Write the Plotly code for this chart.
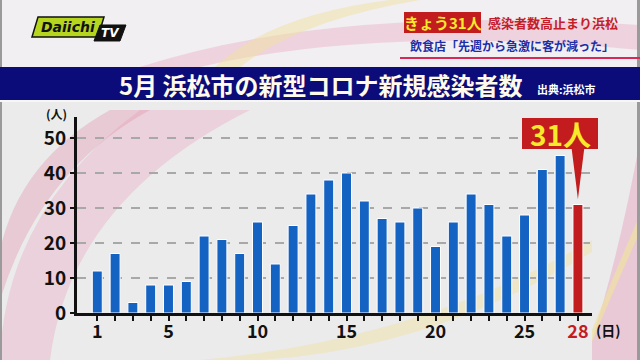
import plotly.graph_objects as go

# ---- data ----
days = list(range(1, 29))
cases = [12, 17, 3, 8, 8, 9, 22, 21, 17, 26, 14, 25, 34, 38, 40, 32, 27, 26, 30, 19,
         26, 34, 31, 22, 28, 41, 45, 31]
x_tick_days = [1, 5, 10, 15, 20, 25, 28]
y_ticks = [0, 10, 20, 30, 40, 50]

title_text = "5月 浜松市の新型コロナ新規感染者数"
source_text = "出典:浜松市"
headline_box = "きょう31人"
headline_red = "感染者数高止まり浜松"
headline_2 = "飲食店「先週から急激に客が減った」"
callout_text = f"{cases[-1]}人"

BLUE = "#1463c2"
RED = "#c21c1e"
FONT = "Noto Sans CJK JP"

# ---- pixel -> paper helpers for decorations ----
L, R, T, B = 77, 592, 117, 313
W, H = R - L, B - T
def px(x): return (x - L) / W
def py(y): return (B - y) / H

def path(*cmds):
    out = []
    for c in cmds:
        op, nums = c[0], c[1:]
        pts = []
        for i in range(0, len(nums), 2):
            pts.append(f"{px(nums[i]):.4f},{py(nums[i+1]):.4f}")
        out.append(op + " " + " ".join(pts))
    return " ".join(out)

colors = [BLUE] * (len(days) - 1) + [RED]
ticktext = []
for d in days:
    if d == days[-1]:
        ticktext.append(f'<span style="color:{RED}">{d}</span>')
    elif d in x_tick_days:
        ticktext.append(str(d))
    else:
        ticktext.append("")

fig = go.Figure(go.Bar(
    x=days, y=cases, marker=dict(color=colors, line=dict(color="white", width=1)),
    hoverinfo="skip"))

shapes = []
def pshape(p, fill, line_color=None, line_width=0, layer="below"):
    shapes.append(dict(type="path", xref="paper", yref="paper", path=p, fillcolor=fill,
                       line=dict(color=line_color or "rgba(0,0,0,0)", width=line_width), layer=layer))

def prect(x0, y0, x1, y1, fill, layer="below", lc=None, lw=0):
    shapes.append(dict(type="rect", xref="paper", yref="paper", x0=px(x0), x1=px(x1),
                       y0=py(y1), y1=py(y0), fillcolor=fill,
                       line=dict(color=lc or "rgba(0,0,0,0)", width=lw), layer=layer))

# background header
prect(0, 0, 640, 67, "#f1eff1")
# pink swooshes
pshape(path(("M", 0, 360), ("Q", 5, 210, 140, 110), ("L", 250, 110), ("Q", 70, 200, 50, 360), ("Z",)),
       "rgba(232,160,190,0.35)")
pshape(path(("M", 0, 250), ("Q", 20, 160, 110, 110), ("L", 150, 110), ("Q", 40, 170, 0, 300), ("Z",)),
       "rgba(225,140,170,0.35)")
pshape(path(("M", 140, 67), ("Q", 330, 5, 640, 25), ("L", 640, 50), ("Q", 380, 25, 200, 67), ("Z",)),
       "rgba(232,160,190,0.35)")
pshape(path(("M", 215, 67), ("Q", 270, 15, 390, 0), ("L", 420, 0), ("Q", 300, 20, 240, 67), ("Z",)),
       "rgba(240,225,160,0.5)")
pshape(path(("M", 592, 340), ("Q", 620, 250, 640, 140), ("L", 640, 360), ("L", 592, 360), ("Z",)),
       "rgba(232,160,190,0.45)")
pshape(path(("M", 592, 330), ("Q", 620, 260, 640, 215), ("L", 640, 232), ("Q", 620, 275, 592, 342), ("Z",)),
       "rgba(240,225,160,0.7)")
pshape(path(("M", 200, 360), ("Q", 420, 340, 592, 240), ("L", 592, 252), ("Q", 430, 350, 260, 360), ("Z",)),
       "rgba(240,225,160,0.45)")
# borders
prect(0, 0, 2, 360, "#9a9a9a", layer="above")
prect(637, 0, 640, 360, "#9a9a9a", layer="above")
# title bar
prect(0, 67, 640, 100, "#0b0b7a", layer="above")
prect(0, 100, 640, 102, "#f7f7f7", layer="above")
# header underline
prect(400, 57, 640, 59, "#d8285a", layer="above")
# headline red box
prect(404, 12, 481, 33, "#c21c1e", layer="above")
# logo
pshape(path(("M", 38, 17), ("L", 104, 17), ("L", 98, 37), ("L", 32, 37), ("Z",)), "#b6d51e", "#111", 1.5, "above")
pshape(path(("M", 100, 25), ("L", 126, 25), ("L", 120, 41), ("L", 94, 41), ("Z",)), "#111111", "#111", 1, "above")
# callout box
prect(522, 118, 598, 149, RED, layer="above")
shapes.append(dict(type="path", xref="x", yref="y",
                   path=f"M {days[-1]-0.35},{py(149)*56:.3f} L {days[-1]+0.35},{py(149)*56:.3f} L {days[-1]},{cases[-1]+1.5} Z",
                   fillcolor=RED, line=dict(width=0), layer="above"))

def ann(x, y, text, size, color, xanchor="center", family=FONT, style="normal"):
    return dict(x=px(x), y=py(y), xref="paper", yref="paper", text=text, showarrow=False,
                xanchor=xanchor, yanchor="middle",
                font=dict(family=family, size=size, color=color, weight="bold", style=style))

annotations = [
    ann(321, 84, title_text, 24, "#fffbe8"),
    ann(535, 89, source_text, 11, "white", xanchor="left"),
    ann(442.5, 22.5, headline_box, 15, "#f7ea2a"),
    ann(486, 22.5, headline_red, 13, "#c41e2a", xanchor="left"),
    ann(408, 45, headline_2, 12, "#1c2fa8", xanchor="left"),
    ann(68, 27, "Daiichi", 14, "#111", family="DejaVu Sans", style="italic"),
    ann(110, 33, "TV", 12, "white", family="DejaVu Sans", style="italic"),
    ann(560, 133.5, callout_text, 28, "#f7ea2a"),
    ann(56, 114, "(人)", 12, "#111"),
    ann(594, 330, "(日)", 14, "#111", xanchor="left"),
]

fig.update_layout(
    width=640, height=360,
    margin=dict(l=L, r=640 - R, t=T, b=360 - B, pad=0),
    paper_bgcolor="#ebebeb", plot_bgcolor="rgba(0,0,0,0)",
    showlegend=False, bargap=0.44,
    shapes=shapes, annotations=annotations,
    font=dict(family=FONT, color="#111"),
    xaxis=dict(range=[days[0] - 1.14, days[-1] + 0.79], tickmode="array", tickvals=days, ticktext=ticktext,
               showline=True, linecolor="#111", linewidth=3, ticks="outside", ticklen=5, tickwidth=2,
               tickcolor="#111", showgrid=False, zeroline=False, ticklabelstandoff=-5,
               tickfont=dict(family=FONT, size=18, color="#111", weight="bold")),
    yaxis=dict(range=[0, 56], tickmode="array", tickvals=y_ticks, showline=True, linecolor="#111",
               linewidth=3, ticks="outside", ticklen=4, tickwidth=2, tickcolor="#111",
               showgrid=True, gridcolor="#a8a8a8", gridwidth=1.5, griddash="dash", zeroline=False,
               tickfont=dict(family=FONT, size=19, color="#111", weight="bold")),
)

fig.write_html("out.html", config={"staticPlot": True},
               post_script="document.body.style.margin='0';document.body.style.overflow='hidden';")
